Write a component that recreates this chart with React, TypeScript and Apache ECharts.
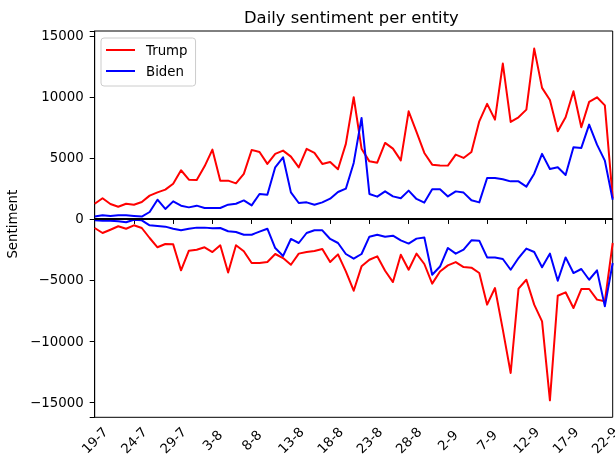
import React, { useEffect, useRef } from 'react';
import * as echarts from 'echarts';

const dates = [
  '19-7', '20-7', '21-7', '22-7', '23-7', '24-7', '25-7', '26-7', '27-7', '28-7', '29-7', '30-7', '31-7',
  '1-8', '2-8', '3-8', '4-8', '5-8', '6-8', '7-8', '8-8', '9-8', '10-8', '11-8', '12-8', '13-8', '14-8',
  '15-8', '16-8', '17-8', '18-8', '19-8', '20-8', '21-8', '22-8', '23-8', '24-8', '25-8', '26-8', '27-8',
  '28-8', '29-8', '30-8', '31-8',
  '1-9', '2-9', '3-9', '4-9', '5-9', '6-9', '7-9', '8-9', '9-9', '10-9', '11-9', '12-9', '13-9', '14-9',
  '15-9', '16-9', '17-9', '18-9', '19-9', '20-9', '21-9', '22-9', '23-9',
];

const trumpPositive = [
  1250, 1700, 1230, 1000, 1250, 1170, 1390, 1910, 2180, 2400,
  2890, 3990, 3220, 3190, 4310, 5680, 3140, 3140, 2920, 3690,
  5650, 5490, 4510, 5330, 5600, 5110, 4230, 5740, 5410, 4510,
  4670, 4070, 6150, 9970, 5760, 4720, 4610, 6230, 5760, 4800,
  8820, 7130, 5410, 4450, 4390, 4370, 5270, 5000, 5490, 8000,
  9430, 8140, 12730, 7950, 8330, 8960, 13960, 10740, 9750, 7180,
  8330, 10460, 7510, 9590, 9970, 9310, 1700,
];

const trumpNegative = [
  -740, -1150, -880, -600, -800, -520, -740, -1560, -2320, -2050,
  -2080, -4210, -2600, -2520, -2320, -2710, -2160, -4380, -2160, -2650,
  -3610, -3610, -3530, -2870, -3200, -3750, -2840, -2710, -2620, -2460,
  -3530, -2900, -4290, -5880, -3880, -3340, -3060, -4240, -5170, -2930,
  -4160, -2840, -3690, -5300, -4300, -3800, -3530, -3940, -3990, -4430,
  -7020, -5660, -9070, -12620, -5710, -4980, -7020, -8390, -14860, -6290,
  -6010, -7300, -5740, -5740, -6610, -6750, -1970,
];

const bidenPositive = [
  200, 300, 250, 300, 300, 250, 200, 570, 1580, 820,
  1440, 1090, 950, 1090, 900, 900, 900, 1170, 1250, 1520,
  1110, 2050, 1990, 4230, 5050, 2180, 1310, 1360, 1170, 1360,
  1660, 2210, 2480, 4590, 8280, 2050, 1830, 2260, 1850, 1690,
  2320, 1640, 1340, 2430, 2430, 1850, 2260, 2160, 1530, 1360,
  3360, 3360, 3250, 3080, 3080, 2650, 3710, 5330, 4100, 4230,
  3600, 5870, 5820, 7730, 6090, 4780, 1580,
];

const bidenNegative = [
  -110, -140, -140, -190, -270, -60, -110, -520, -580, -630,
  -800, -930, -800, -710, -710, -770, -740, -1010, -1070, -1290,
  -1290, -1040, -800, -2380, -3030, -1640, -1970, -1150, -930, -930,
  -1640, -1970, -2870, -3250, -2870, -1450, -1290, -1450, -1370, -1750,
  -2020, -1610, -1510, -4570, -3900, -2380, -2840, -2520, -1750, -1780,
  -3150, -3150, -3280, -4160, -3200, -2430, -2710, -3960, -2840, -5060,
  -3150, -4430, -4100, -4980, -4210, -7160, -3610,
];

const legendNames = ['Trump', 'Biden'];

export default function App() {
  const ref = useRef<HTMLDivElement>(null);

  useEffect(() => {
    const chart = echarts.init(ref.current as HTMLDivElement, null, { renderer: 'svg' });
    const font = 'DejaVu Sans';
    const every5 = (i: number) => i % 5 === 0;
    const line = (name: string, data: number[], color: string, extra: any = {}) => ({
      type: 'line',
      name,
      data,
      symbol: 'none',
      showSymbol: false,
      lineStyle: { color, width: 2, join: 'round' },
      itemStyle: { color },
      emphasis: { disabled: true },
      ...extra,
    });

    chart.setOption({
      animation: false,
      title: {
        text: 'Daily sentiment per entity',
        left: 239,
        top: 4,
        textStyle: { fontFamily: font, fontSize: 16.4, fontWeight: 'normal', color: '#000' },
      },
      legend: {
        data: legendNames,
        orient: 'vertical',
        left: 101,
        top: 38,
        icon: 'rect',
        itemWidth: 29,
        itemHeight: 2,
        itemGap: 5,
        padding: [4, 8, 7, 5],
        borderColor: '#cccccc',
        borderWidth: 1,
        borderRadius: 3,
        backgroundColor: 'rgba(255,255,255,0.8)',
        textStyle: { fontFamily: font, fontSize: 13.33, color: '#000', padding: [0, 0, 0, 6], lineHeight: 16 },
      },
      grid: {
        left: 94.7,
        right: 2.3,
        top: 31,
        bottom: 43.7,
        show: true,
        borderColor: '#000',
        borderWidth: 1,
        backgroundColor: 'transparent',
        outerBoundsMode: 'none',
      },
      xAxis: {
        type: 'category',
        data: dates,
        boundaryGap: false,
        axisLine: { lineStyle: { color: '#000', width: 1 } },
        axisTick: { show: true, interval: every5, length: 5, inside: false, lineStyle: { color: '#000' } },
        axisLabel: {
          interval: every5,
          rotate: 45,
          align: 'center',
          verticalAlign: 'middle',
          margin: 23,
          fontFamily: font,
          fontSize: 13.33,
          color: '#000',
        },
        splitLine: { show: false },
      },
      yAxis: {
        type: 'value',
        min: -16250,
        max: 15400,
        splitNumber: 6,
        name: 'Sentiment',
        nameLocation: 'middle',
        nameGap: 70,
        nameTextStyle: { fontFamily: font, fontSize: 13.33, color: '#000' },
        axisLine: { show: true, lineStyle: { color: '#000', width: 1 } },
        axisTick: { show: true, length: 5, inside: false, lineStyle: { color: '#000' } },
        axisLabel: {
          margin: 11,
          fontFamily: font,
          fontSize: 13.33,
          color: '#000',
          formatter: (v: number) => (Math.abs(v % 5000) < 1e-6 ? String(v).replace('-', '\u2212') : ''),
        },
        splitLine: { show: false },
      },
      series: [
        line('Trump', trumpPositive, '#ff0000'),
        line('Trump', trumpNegative, '#ff0000'),
        line('Biden', bidenPositive, '#0000ff'),
        line('Biden', bidenNegative, '#0000ff', {
          markLine: {
            silent: true,
            symbol: ['none', 'none'],
            label: { show: false },
            lineStyle: { color: '#000', type: 'solid', width: 2 },
            data: [{ yAxis: 0 }],
          },
        }),
      ],
    });

    return () => chart.dispose();
  }, []);

  return <div ref={ref} style={{ position: 'fixed', left: 0, top: 0, width: 615, height: 461 }} />;
}
